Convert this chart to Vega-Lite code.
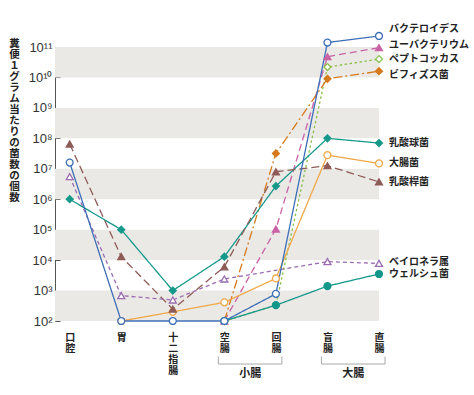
{
  "$schema": "https://vega.github.io/schema/vega-lite/v6.json",
  "width": 324,
  "height": 274,
  "autosize": {"type": "none"},
  "padding": {"left": 55, "top": 47, "right": 95, "bottom": 74},
  "background": "white",
  "config": {"view": {"stroke": null}, "font": "Noto Sans CJK JP"},
  "datasets": {
    "bands": [
      {"lo": 1e2, "hi": 1e3},
      {"lo": 1e4, "hi": 1e5},
      {"lo": 1e6, "hi": 1e7},
      {"lo": 1e8, "hi": 1e9},
      {"lo": 1e10, "hi": 1e11}
    ],
    "sections": [
      {"名称": "小腸", "始": "空腸", "終": "回腸"},
      {"名称": "大腸", "始": "盲腸", "終": "直腸"}
    ],
    "counts": [
      {"菌": "ユーバクテリウム", "部位": "空腸", "菌数": 100},
      {"菌": "ユーバクテリウム", "部位": "回腸", "菌数": 105000},
      {"菌": "ユーバクテリウム", "部位": "盲腸", "菌数": 4.8e10},
      {"菌": "ユーバクテリウム", "部位": "直腸", "菌数": 9.5e10},
      {"菌": "ペプトコッカス", "部位": "空腸", "菌数": 100},
      {"菌": "ペプトコッカス", "部位": "回腸", "菌数": 330},
      {"菌": "ペプトコッカス", "部位": "盲腸", "菌数": 2.2e10},
      {"菌": "ペプトコッカス", "部位": "直腸", "菌数": 4.0e10},
      {"菌": "ビフィズス菌", "部位": "空腸", "菌数": 100},
      {"菌": "ビフィズス菌", "部位": "回腸", "菌数": 3.2e7},
      {"菌": "ビフィズス菌", "部位": "盲腸", "菌数": 9.0e9},
      {"菌": "ビフィズス菌", "部位": "直腸", "菌数": 1.6e10},
      {"菌": "乳酸球菌", "部位": "口腔", "菌数": 1.0e6},
      {"菌": "乳酸球菌", "部位": "胃", "菌数": 1.0e5},
      {"菌": "乳酸球菌", "部位": "十二指腸", "菌数": 1000},
      {"菌": "乳酸球菌", "部位": "空腸", "菌数": 13000},
      {"菌": "乳酸球菌", "部位": "回腸", "菌数": 2.7e6},
      {"菌": "乳酸球菌", "部位": "盲腸", "菌数": 1.0e8},
      {"菌": "乳酸球菌", "部位": "直腸", "菌数": 7.0e7},
      {"菌": "大腸菌", "部位": "胃", "菌数": 100},
      {"菌": "大腸菌", "部位": "十二指腸", "菌数": 200},
      {"菌": "大腸菌", "部位": "空腸", "菌数": 410},
      {"菌": "大腸菌", "部位": "回腸", "菌数": 2500},
      {"菌": "大腸菌", "部位": "盲腸", "菌数": 2.8e7},
      {"菌": "大腸菌", "部位": "直腸", "菌数": 1.5e7},
      {"菌": "乳酸桿菌", "部位": "口腔", "菌数": 6.5e7},
      {"菌": "乳酸桿菌", "部位": "胃", "菌数": 13000},
      {"菌": "乳酸桿菌", "部位": "十二指腸", "菌数": 245},
      {"菌": "乳酸桿菌", "部位": "空腸", "菌数": 6000},
      {"菌": "乳酸桿菌", "部位": "回腸", "菌数": 8.0e6},
      {"菌": "乳酸桿菌", "部位": "盲腸", "菌数": 1.26e7},
      {"菌": "乳酸桿菌", "部位": "直腸", "菌数": 3.7e6},
      {"菌": "ベイロネラ属", "部位": "口腔", "菌数": 5.5e6},
      {"菌": "ベイロネラ属", "部位": "胃", "菌数": 680},
      {"菌": "ベイロネラ属", "部位": "十二指腸", "菌数": 490},
      {"菌": "ベイロネラ属", "部位": "空腸", "菌数": 2400},
      {"菌": "ベイロネラ属", "部位": "盲腸", "菌数": 8900},
      {"菌": "ベイロネラ属", "部位": "直腸", "菌数": 7800},
      {"菌": "ウェルシュ菌", "部位": "空腸", "菌数": 100},
      {"菌": "ウェルシュ菌", "部位": "回腸", "菌数": 330},
      {"菌": "ウェルシュ菌", "部位": "盲腸", "菌数": 1400},
      {"菌": "ウェルシュ菌", "部位": "直腸", "菌数": 3500},
      {"菌": "バクテロイデス", "部位": "口腔", "菌数": 1.6e7},
      {"菌": "バクテロイデス", "部位": "胃", "菌数": 100},
      {"菌": "バクテロイデス", "部位": "十二指腸", "菌数": 100},
      {"菌": "バクテロイデス", "部位": "空腸", "菌数": 100},
      {"菌": "バクテロイデス", "部位": "回腸", "菌数": 780},
      {"菌": "バクテロイデス", "部位": "盲腸", "菌数": 1.4e11},
      {"菌": "バクテロイデス", "部位": "直腸", "菌数": 2.3e11}
    ]
  },
  "layer": [
    {
      "data": {"name": "bands"},
      "mark": {"type": "rect", "color": "#ebe9e6"},
      "encoding": {
        "y": {"field": "lo", "type": "quantitative", "scale": {"type": "log", "domain": [100, 1e11], "nice": false},
              "axis": {
                "values": [1e2, 1e3, 1e4, 1e5, 1e6, 1e7, 1e8, 1e9, 1e10, 1e11],
                "labelExpr": "'10' + ['²','³','⁴','⁵','⁶','⁷','⁸','⁹','¹⁰','¹¹'][round(log(datum.value) / LN10) - 2]",
                "labelFont": "Liberation Sans", "labelFontSize": 13, "labelColor": "#333", "labelPadding": 8,
                "domainColor": "#555", "tickColor": "#555", "tickSize": -5, "grid": false,
                "title": ["糞", "便", "１", "グ", "ラ", "ム", "当", "た", "り", "の", "菌", "数", "の", "個", "数"],
                "titleAngle": 0, "titleAlign": "center", "titleBaseline": "top", "titleX": -41, "titleY": -9,
                "titleFontSize": 10.5, "titleFontWeight": "bold", "titleLineHeight": 11, "titleColor": "#222"
              }},
        "y2": {"field": "hi"}
      }
    },
    {
      "data": {"name": "counts"},
      "mark": {"type": "line", "strokeWidth": 1.3},
      "encoding": {
        "x": {
          "field": "部位", "type": "nominal",
          "scale": {"type": "point", "domain": ["口腔", "胃", "十二指腸", "空腸", "回腸", "盲腸", "直腸"], "padding": 0.1426, "align": 1},
          "axis": {"orient": "bottom", "domain": false, "ticks": false, "grid": false, "title": null, "labelAngle": 0,
                   "labelExpr": "split(datum.label, '')", "labelFontSize": 10, "labelFontWeight": "bold",
                   "labelLineHeight": 11, "labelBaseline": "top", "labelPadding": 11, "labelColor": "#222"}
        },
        "y": {"field": "菌数", "type": "quantitative", "scale": {"type": "log", "domain": [100, 1e11], "nice": false}},
        "color": {
          "field": "菌", "type": "nominal", "legend": null,
          "scale": {
            "domain": ["バクテロイデス", "ユーバクテリウム", "ペプトコッカス", "ビフィズス菌", "乳酸球菌", "大腸菌", "乳酸桿菌", "ベイロネラ属", "ウェルシュ菌"],
            "range": ["#3d6fb6", "#c962a6", "#8bbf4a", "#d67a1c", "#16998b", "#f0a84a", "#8e5b57", "#9b6cb0", "#14978b"]
          }
        },
        "strokeDash": {
          "field": "菌", "type": "nominal", "legend": null,
          "scale": {
            "domain": ["バクテロイデス", "ユーバクテリウム", "ペプトコッカス", "ビフィズス菌", "乳酸球菌", "大腸菌", "乳酸桿菌", "ベイロネラ属", "ウェルシュ菌"],
            "range": [[1, 0], [7, 4], [2.5, 2.5], [9, 3, 2, 3], [1, 0], [1, 0], [8, 4], [4, 3], [1, 0]]
          }
        }
      }
    },
    {
      "data": {"name": "counts"},
      "mark": {"type": "point", "size": 48, "strokeWidth": 1.3, "opacity": 1, "filled": false},
      "encoding": {
        "x": {"field": "部位", "type": "nominal"},
        "y": {"field": "菌数", "type": "quantitative", "scale": {"type": "log", "domain": [100, 1e11], "nice": false}},
        "shape": {
          "field": "菌", "type": "nominal", "legend": null,
          "scale": {
            "domain": ["バクテロイデス", "ユーバクテリウム", "ペプトコッカス", "ビフィズス菌", "乳酸球菌", "大腸菌", "乳酸桿菌", "ベイロネラ属", "ウェルシュ菌"],
            "range": ["circle", "triangle-up", "diamond", "diamond", "diamond", "circle", "triangle-up", "triangle-up", "circle"]
          }
        },
        "stroke": {
          "field": "菌", "type": "nominal", "legend": null,
          "scale": {
            "domain": ["バクテロイデス", "ユーバクテリウム", "ペプトコッカス", "ビフィズス菌", "乳酸球菌", "大腸菌", "乳酸桿菌", "ベイロネラ属", "ウェルシュ菌"],
            "range": ["#3d6fb6", "#c962a6", "#8bbf4a", "#d67a1c", "#16998b", "#f0a84a", "#8e5b57", "#9b6cb0", "#14978b"]
          }
        },
        "fill": {
          "field": "菌", "type": "nominal", "legend": null,
          "scale": {
            "domain": ["バクテロイデス", "ユーバクテリウム", "ペプトコッカス", "ビフィズス菌", "乳酸球菌", "大腸菌", "乳酸桿菌", "ベイロネラ属", "ウェルシュ菌"],
            "range": ["#ffffff", "#c962a6", "#ffffff", "#d67a1c", "#16998b", "#ffffff", "#8e5b57", "#ffffff", "#14978b"]
          }
        }
      }
    },
    {
      "data": {"name": "counts"},
      "transform": [{"filter": "datum['部位'] === '直腸' && indexof(['バクテロイデス','ユーバクテリウム','ビフィズス菌','ベイロネラ属'], datum['菌']) < 0"}],
      "mark": {"type": "text", "align": "left", "baseline": "middle", "dx": 10, "fontSize": 10, "fontWeight": "bold", "color": "#222"},
      "encoding": {
        "x": {"field": "部位", "type": "nominal"},
        "y": {"field": "菌数", "type": "quantitative", "scale": {"type": "log", "domain": [100, 1e11], "nice": false}},
        "text": {"field": "菌"}
      }
    },
    {
      "data": {"name": "counts"},
      "transform": [{"filter": "datum['部位'] === '直腸' && datum['菌'] === 'バクテロイデス'"}],
      "mark": {"type": "text", "align": "left", "baseline": "middle", "dx": 10, "dy": -7, "fontSize": 10, "fontWeight": "bold", "color": "#222"},
      "encoding": {
        "x": {"field": "部位", "type": "nominal"},
        "y": {"field": "菌数", "type": "quantitative", "scale": {"type": "log", "domain": [100, 1e11], "nice": false}},
        "text": {"field": "菌"}
      }
    },
    {
      "data": {"name": "counts"},
      "transform": [{"filter": "datum['部位'] === '直腸' && datum['菌'] === 'ユーバクテリウム'"}],
      "mark": {"type": "text", "align": "left", "baseline": "middle", "dx": 10, "dy": -3, "fontSize": 10, "fontWeight": "bold", "color": "#222"},
      "encoding": {
        "x": {"field": "部位", "type": "nominal"},
        "y": {"field": "菌数", "type": "quantitative", "scale": {"type": "log", "domain": [100, 1e11], "nice": false}},
        "text": {"field": "菌"}
      }
    },
    {
      "data": {"name": "counts"},
      "transform": [{"filter": "datum['部位'] === '直腸' && datum['菌'] === 'ビフィズス菌'"}],
      "mark": {"type": "text", "align": "left", "baseline": "middle", "dx": 10, "dy": 4, "fontSize": 10, "fontWeight": "bold", "color": "#222"},
      "encoding": {
        "x": {"field": "部位", "type": "nominal"},
        "y": {"field": "菌数", "type": "quantitative", "scale": {"type": "log", "domain": [100, 1e11], "nice": false}},
        "text": {"field": "菌"}
      }
    },
    {
      "data": {"name": "counts"},
      "transform": [{"filter": "datum['部位'] === '直腸' && datum['菌'] === 'ベイロネラ属'"}],
      "mark": {"type": "text", "align": "left", "baseline": "middle", "dx": 10, "dy": -1.5, "fontSize": 10, "fontWeight": "bold", "color": "#222"},
      "encoding": {
        "x": {"field": "部位", "type": "nominal"},
        "y": {"field": "菌数", "type": "quantitative", "scale": {"type": "log", "domain": [100, 1e11], "nice": false}},
        "text": {"field": "菌"}
      }
    },
    {
      "data": {"name": "sections"},
      "mark": {"type": "rule", "color": "#a8a8a8", "strokeWidth": 1, "xOffset": -6, "x2Offset": 6},
      "encoding": {
        "x": {"field": "始", "type": "nominal"},
        "x2": {"field": "終"},
        "y": {"datum": 3.86, "type": "quantitative", "scale": {"type": "log", "domain": [100, 1e11], "nice": false}}
      }
    },
    {
      "data": {"name": "sections"},
      "mark": {"type": "rule", "color": "#a8a8a8", "strokeWidth": 1, "xOffset": -6},
      "encoding": {
        "x": {"field": "始", "type": "nominal"},
        "y": {"datum": 3.86, "type": "quantitative", "scale": {"type": "log", "domain": [100, 1e11], "nice": false}},
        "y2": {"datum": 6.8}
      }
    },
    {
      "data": {"name": "sections"},
      "mark": {"type": "rule", "color": "#a8a8a8", "strokeWidth": 1, "xOffset": 6},
      "encoding": {
        "x": {"field": "終", "type": "nominal"},
        "y": {"datum": 3.86, "type": "quantitative", "scale": {"type": "log", "domain": [100, 1e11], "nice": false}},
        "y2": {"datum": 6.8}
      }
    },
    {
      "data": {"name": "sections"},
      "mark": {"type": "text", "align": "center", "baseline": "middle", "xOffset": 25.8, "fontSize": 11, "fontWeight": "bold", "color": "#222"},
      "encoding": {
        "x": {"field": "始", "type": "nominal"},
        "y": {"datum": 1.82, "type": "quantitative", "scale": {"type": "log", "domain": [100, 1e11], "nice": false}},
        "text": {"field": "名称"}
      }
    }
  ]
}
